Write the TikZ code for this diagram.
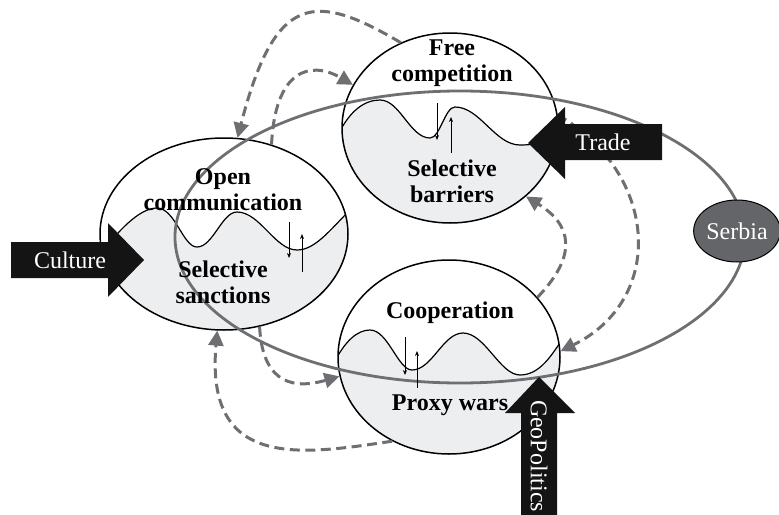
\documentclass[tikz,border=0pt]{standalone}
\usepackage{fontspec}
\setmainfont{Liberation Serif}
\usetikzlibrary{arrows.meta,shapes.geometric}
\definecolor{lineg}{RGB}{110,111,114}
\definecolor{fillg}{RGB}{237,238,240}
\definecolor{serb}{RGB}{100,101,104}
\begin{document}
\begin{tikzpicture}[x=1pt,y=-1pt,
  circ/.style={draw=black, line width=1.5pt, ellipse, inner sep=0pt},
  lab/.style={align=center, font=\fontsize{24}{26}\selectfont\bfseries, inner sep=0pt},
  wave/.style={line width=1.2pt},
  dashar/.style={draw=lineg, line width=3pt, dash pattern=on 10pt off 5.5pt, -{Triangle[length=15pt,width=15pt]}},
  updown/.style={line width=0.8pt, -{Stealth[length=5pt,width=4pt]}},
  bigarr/.style={fill=black!92},
  arrlab/.style={text=white, font=\fontsize{24}{26}\selectfont, inner sep=0pt}
]
\useasboundingbox (0,0) rectangle (779,514);

% ---- Free competition
\begin{scope}
\clip (450,128) ellipse [x radius=108, y radius=95];
\fill[fillg] (338,135) .. controls (350,110) and (365,100) .. (380,100) .. controls (400,100) and (410,138) .. (430,138) .. controls (440,138) and (445,107) .. (455,107) .. controls (480,107) and (495,145) .. (520,145) .. controls (540,145) and (550,140) .. (565,134) -- (565,240) -- (338,240) -- cycle;
\draw[wave] (338,135) .. controls (350,110) and (365,100) .. (380,100) .. controls (400,100) and (410,138) .. (430,138) .. controls (440,138) and (445,107) .. (455,107) .. controls (480,107) and (495,145) .. (520,145) .. controls (540,145) and (550,140) .. (565,134);
\end{scope}
\node[circ, minimum width=216pt, minimum height=190pt] (fc) at (450,128) {};

% ---- Open communication
\begin{scope}
\clip (224,234) ellipse [x radius=124, y radius=96];
\fill[fillg] (98,258) .. controls (118,230) and (140,208) .. (157,208) .. controls (175,208) and (183,247) .. (197,247) .. controls (213,247) and (222,212) .. (237,212) .. controls (260,212) and (275,250) .. (297,250) .. controls (315,250) and (330,230) .. (350,210) -- (350,340) -- (98,340) -- cycle;
\draw[wave] (98,258) .. controls (118,230) and (140,208) .. (157,208) .. controls (175,208) and (183,247) .. (197,247) .. controls (213,247) and (222,212) .. (237,212) .. controls (260,212) and (275,250) .. (297,250) .. controls (315,250) and (330,230) .. (350,210);
\end{scope}
\node[circ, minimum width=248pt, minimum height=192pt] (oc) at (224,234) {};

% ---- Cooperation
\begin{scope}
\clip (449,357) ellipse [x radius=111, y radius=97];
\fill[fillg] (333,365) .. controls (345,340) and (358,330) .. (370,330) .. controls (388,330) and (398,370) .. (412,370) .. controls (432,370) and (443,333) .. (463,333) .. controls (485,333) and (500,375) .. (520,375) .. controls (540,375) and (552,355) .. (565,335) -- (565,460) -- (333,460) -- cycle;
\draw[wave] (333,365) .. controls (345,340) and (358,330) .. (370,330) .. controls (388,330) and (398,370) .. (412,370) .. controls (432,370) and (443,333) .. (463,333) .. controls (485,333) and (500,375) .. (520,375) .. controls (540,375) and (552,355) .. (565,335);
\end{scope}
\node[circ, minimum width=222pt, minimum height=194pt] (cp) at (449,357) {};

% ---- big region ellipse
\node[draw=lineg, line width=2.8pt, ellipse, inner sep=0pt, minimum width=570pt, minimum height=292pt] (region) at (460,237) {};

% ---- labels
\node[lab] (fctop) at (452,63) {Free\\competition};
\node[lab] (fcbot) at (452,181) {Selective\\barriers};
\node[lab] (octop) at (223,190) {Open\\communication};
\node[lab] (ocbot) at (223,282) {Selective\\sanctions};
\node[lab] (cptop) at (450,313) {Cooperation};
\node[lab] (cpbot) at (450,405) {Proxy wars};

% ---- small up/down arrows
\draw[updown] (437,103) -- (437,140);
\draw[updown] (451,153) -- (451,117);
\draw[updown] (289,222) -- (289,258);
\draw[updown] (302,272) -- (302,234);
\draw[updown] (405,337) -- (405,375);
\draw[updown] (417,388) -- (417,351);

% ---- dashed feedback arrows
\draw[dashar] (fc.120) .. controls (315,-8) and (275,-8) .. (oc.82);
\draw[dashar] (oc.62) .. controls (275,70) and (310,60) .. (fc.156);
\draw[dashar] (oc.-69) .. controls (262,375) and (285,392) .. (cp.190);
\draw[dashar] (cp.236.6) .. controls (300,455) and (205,470) .. (oc.-94);
\draw[dashar] (cp.34) .. controls (578,255) and (572,225) .. (fc.-42);
\draw[dashar] (fc.7) .. controls (660,175) and (665,300) .. (cp.3.5);

% ---- big black arrows
\fill[bigarr] (11,242) -- (108,242) -- (108,223) -- (144,260) -- (108,297) -- (108,278) -- (11,278) -- cycle;
\node[arrlab] (culture) at (70,260) {Culture};
\fill[bigarr] (662,124) -- (565,124) -- (565,107) -- (528,143) -- (565,179) -- (565,160) -- (662,160) -- cycle;
\node[arrlab] (trade) at (603,142) {Trade};
\fill[bigarr] (521,520) -- (521,413) -- (505,413) -- (539,377) -- (575,413) -- (557,413) -- (557,520) -- cycle;
\node[arrlab, rotate=-90] (geo) at (539,456) {GeoPolitics};

% ---- Serbia
\node[draw=black, line width=1pt, fill=serb, ellipse, inner sep=0pt, minimum width=84pt, minimum height=62pt, text=white, font=\fontsize{24}{26}\selectfont] (serbia) at (737,231) {Serbia};
\end{tikzpicture}
\end{document}
